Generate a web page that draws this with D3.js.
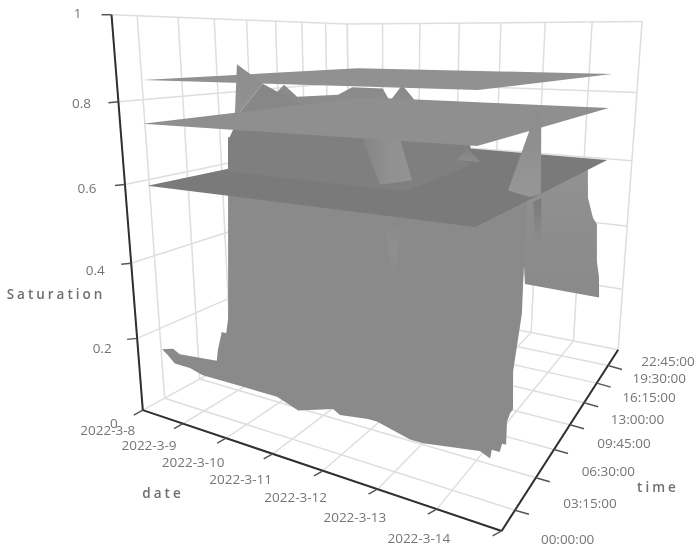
<!DOCTYPE html>
<html><head><meta charset="utf-8"><script src="https://cdn.jsdelivr.net/npm/d3@7"></script>
<style>html,body{margin:0;background:#fff}svg{display:block;filter:blur(.55px)}text{font-family:"Open Sans",sans-serif;fill:#757575;font-size:13.5px}</style></head>
<body><script>
// ---- axis data
const dateLabels=["2022-3-8","2022-3-9","2022-3-10","2022-3-11","2022-3-12","2022-3-13","2022-3-14"];
const timeLabels=["00:00:00","03:15:00","06:30:00","09:45:00","13:00:00","16:15:00","19:30:00","22:45:00"];
const timeHours=[0,3.25,6.5,9.75,13,16.25,19.5,22.75];
const satTicks=[0,.2,.4,.6,.8,1];
// ---- flat surfaces: saturation level and [date, hour] corners
const topLevel=.85, midLevel=.75, lowLevel=.6;
const topCorners=[[.27,1.9],[6.07,4.71],[6.43,24.27],[.3,24]];
const midCorners=[[.45,.47],[6.29,2.77],[6.42,24.19],[.5,24]];
const lowCorners=[[.42,.69],[6.38,1.51],[6.53,23.77],[.5,24]];
// ---- front of the measured surface, at hour 2: [date, saturation]
const frontHour=2;
const frontEdge=[[2.07,.73],[1.88,.29],[1.82,.25],[1.72,.25],[1.61,.20],[1.57,.17],[.69,.16],[.53,.17],[.25,.16],[.37,.15],[.55,.13],[.92,.13],[1.22,.12],[2.14,.12],[2.87,.12],[3.30,.10],[3.99,.13],[4.12,.12],[4.64,.13],[4.80,.13],[5.38,.11],[5.60,.11],[6.51,.13],[6.67,.12],[6.69,.14],[6.81,.14],[6.84,.16],[6.90,.16],[6.90,.21],[6.94,.23],[6.98,.24],[6.96,.32],[7.05,.44],[7.05,.50],[7.06,.68]];
// ---- last day of the surface, at date 6.6: [hour, saturation]
const lastDayDate=6.6;
const lastDayEdge=[[6.09,.64],[19.10,.61],[19.56,.53],[21.24,.46],[22.50,.43],[22.93,.31],[23.30,.25],[23.47,.18],[7.44,.43]];
// ---- inner parts of the surface, at hour 10: [date, saturation]
const innerHour=10;
const plateauBack=[[1.56,.83],[1.85,.80],[2.75,.81],[3.05,.83],[3.67,.83],[3.81,.80],[4.05,.84],[4.26,.81],[4.58,.75],[2.78,.72],[.45,.70]];
const peakLeft=[[.45,.88],[.83,.85],[1.06,.83],[.47,.75],[.34,.74]];
const peakLeftBase=[[1.06,.83],[2.29,.76],[.47,.75]];
const plateauLow=[[.28,.70],[.14,.67],[.09,.56],[5.43,.58],[5.32,.71],[1.90,.74]];
const plateauLowFront=[[.14,.67],[.10,.58],[4.11,.58],[5.33,.66],[5.26,.71]];
const peakCentre=[[3.67,.83],[3.85,.75],[4.01,.71],[4.25,.61],[3.61,.59],[3.26,.70]];
const peakSmall=[[5.27,.70],[5.50,.67],[5.09,.67]];
const peakRight=[[6.43,.80],[6.50,.78],[6.55,.61],[6.37,.60],[6.00,.61]];
const peakRightFoot=[[6.43,.59],[6.56,.60],[6.59,.50],[6.49,.50]];
const peakCentreFoot=[[3.71,.49],[4.02,.49],[3.94,.36],[3.84,.36]];

// ---- scales and camera
const W=696,H=550;
const xDate=d3.scaleLinear().domain([0,7]).range([0,1]);
const yTime=d3.scaleLinear().domain([0,3.25,22.75,24]).range([0,.075,.868,1]);
const zSat=d3.scaleLinear().domain([0,1]).range([0,1]);
const CAM=[[236.5358,364.0093,-43.91324,142.8135],[-8.604902,19.03791,-397.0853,410.1342],[-.2437681,.4462857,-.1131443,1]];
function pr(d,h,s){const x=xDate(d),y=yTime(h),z=zSat(s),w=CAM[2][0]*x+CAM[2][1]*y+CAM[2][2]*z+1;
 return[(CAM[0][0]*x+CAM[0][1]*y+CAM[0][2]*z+CAM[0][3])/w,(CAM[1][0]*x+CAM[1][1]*y+CAM[1][2]*z+CAM[1][3])/w];}
const line=d3.line();
const svg=d3.select("body").append("svg").attr("width",W).attr("height",H);
const defs=svg.append("defs");
function grad(id,stops,horiz){const g=defs.append("linearGradient").attr("id",id).attr("x1",0).attr("y1",0).attr("x2",horiz?1:0).attr("y2",horiz?0:1);
 stops.forEach(([o,c])=>g.append("stop").attr("offset",o).attr("stop-color",c));return`url(#${id})`;}
const END=24, DEND=7;
// ---- walls and floor
const gridG=svg.append("g").attr("fill","none").attr("stroke","#dedede").attr("stroke-width",1.5);
const seg=(a,b)=>gridG.append("path").attr("d",line([a,b]));
const dAll=d3.range(0,8), hAll=[...timeHours.slice(1),END];
dAll.forEach(d=>{seg(pr(d,0,0),pr(d,END,0));seg(pr(d,END,0),pr(d,END,1));});
[0,...hAll].forEach(h=>{seg(pr(0,h,0),pr(DEND,h,0));});
hAll.forEach(h=>seg(pr(0,h,0),pr(0,h,1)));
seg(pr(0,0,0),pr(0,0,1));
satTicks.slice(1).forEach(s=>{seg(pr(0,0,s),pr(0,END,s));seg(pr(0,END,s),pr(DEND,END,s));});
// ---- surfaces, far to near
const surf=svg.append("g");
const draw=(pts,fill)=>surf.append("path").attr("d",line(pts)+"Z").attr("fill",fill);
const flat=(c,l)=>c.map(([d,h])=>pr(d,h,l));
const atHour=(a,h)=>a.map(([d,s])=>pr(d,h,s));
draw(flat(topCorners,topLevel),"#919191");
draw(atHour(plateauBack,innerHour),"#8b8b8b");
draw(atHour(peakLeftBase,innerHour),"#878787");
draw(atHour(peakLeft,innerHour),grad("pl",[[0,"#8d8d8d"],[1,"#929292"]]));
draw(lastDayEdge.map(([h,s])=>pr(lastDayDate,h,s)),grad("cu",[[0,"#929292"],[.45,"#8d8d8d"],[1,"#8a8a8a"]]));
draw(atHour(frontEdge,frontHour),"#8a8a8a");
draw(atHour(peakCentreFoot,innerHour),grad("cf",[[0,"#8a8a8a"],[.5,"#909090"],[1,"#8a8a8a"]]));
draw(atHour(plateauLow,innerHour),"#7f7f7f");
draw(flat(lowCorners,lowLevel),"#7a7a7a");
draw(atHour(plateauLowFront,innerHour),"#7f7f7f");
draw(atHour(peakCentre,innerHour),grad("pc",[[0,"#848484"],[.5,"#909090"],[1,"#939393"]],true));
draw(atHour(peakSmall,innerHour),grad("ps",[[0,"#808080"],[1,"#8e8e8e"]]));
draw(flat(midCorners,midLevel),"#8f8f8f");
draw(atHour(peakRightFoot,innerHour),grad("pf",[[0,"#7a7a7a"],[1,"#8c8c8c"]]));
draw(atHour(peakRight,innerHour),grad("pr",[[0,"#8d8d8d"],[.4,"#8f8f8f"],[1,"#979797"]]));
// ---- axes
const ax=svg.append("g").attr("fill","none");
const axis=(a,b)=>ax.append("path").attr("d",line([a,b])).attr("stroke","#303030").attr("stroke-width",2);
axis(pr(0,0,1),pr(0,0,0));axis(pr(0,0,0),pr(DEND,0,0));axis(pr(DEND,0,0),pr(DEND,END,0));
const tick=(p,dx,dy)=>ax.append("path").attr("d",line([p,[p[0]+dx,p[1]+dy]])).attr("stroke","#555").attr("stroke-width",1.5);
dAll.forEach(d=>tick(pr(d,0,0),-9,5));
timeHours.slice(1).forEach(h=>tick(pr(DEND,h,0),14,4));
satTicks.slice(1).forEach(s=>tick(pr(0,0,s),-10,s==1?0:1));
// ---- labels
const lab=svg.append("g").attr("text-anchor","middle");
const dxD=d3.scaleLinear().domain([0,3,6]).range([-35,-32,-18]),dyD=d3.scaleLinear().domain([0,3,6]).range([20,25,29]);
lab.selectAll(null).data(dateLabels).join("text").text(d=>d).attr("dominant-baseline","central")
 .attr("x",(d,i)=>pr(i,0,0)[0]+dxD(i)).attr("y",(d,i)=>pr(i,0,0)[1]+dyD(i));
const dxT=d3.scaleLinear().domain([0,1,7]).range([66,75,60]),dyT=d3.scaleLinear().domain([0,1,7]).range([8,-7,-5]);
lab.selectAll(null).data(timeLabels).join("text").text(d=>d).attr("dominant-baseline","central")
 .attr("x",(d,i)=>pr(DEND,timeHours[i],0)[0]+dxT(i)).attr("y",(d,i)=>pr(DEND,timeHours[i],0)[1]+dyT(i));
const dxS=d3.scaleLinear().domain([0,.2,.4,.6,.8,1]).range([-29,-35,-36,-38,-37,-34]),dyS=d3.scaleLinear().domain([0,1]).range([13,-2]);
lab.selectAll(null).data(satTicks).join("text").text(d=>d).attr("dominant-baseline","central")
 .attr("x",d=>pr(0,0,d)[0]+dxS(d)).attr("y",d=>pr(0,0,d)[1]+dyS(d));
const names=[["Saturation",56,294],["date",163,493],["time",658,487]];
lab.selectAll(null).data(names).join("text").text(d=>d[0]).attr("dominant-baseline","central")
 .attr("x",d=>d[1]).attr("y",d=>d[2]).style("letter-spacing","3px").style("font-weight",600).style("fill","#6f6f6f");
</script></body></html>
